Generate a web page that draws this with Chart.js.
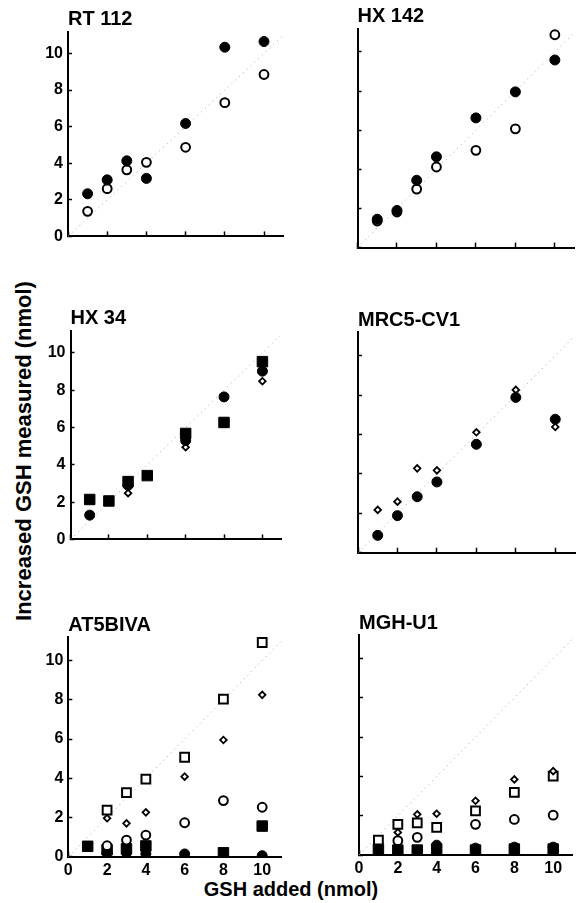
<!DOCTYPE html>
<html>
<head>
<meta charset="utf-8">
<script src="https://cdn.jsdelivr.net/npm/chart.js@4.4.1/dist/chart.umd.min.js"></script>
<style>
html,body{margin:0;padding:0;background:#fff;}
body{width:581px;height:903px;position:relative;overflow:hidden;font-family:"Liberation Sans",Arial,sans-serif;color:#000;}
canvas{position:absolute;}
.ytitle{position:absolute;left:24px;top:451px;transform-origin:0 0;transform:rotate(-90deg) translate(-50%,-50%);white-space:nowrap;font-weight:bold;font-size:22px;line-height:1;}
.xtitle{position:absolute;left:291px;top:889px;transform:translate(-50%,-50%);white-space:nowrap;font-weight:bold;font-size:20px;line-height:1;}
</style>
</head>
<body>
<div class="ytitle">Increased GSH measured (nmol)</div>
<div class="xtitle">GSH added (nmol)</div>
<script>
// ---------- data ----------
const gshAdded = [1, 2, 3, 4, 6, 8, 10];
const xTickValues = [0, 2, 4, 6, 8, 10];
const yTickValues = [0, 2, 4, 6, 8, 10];
const panelTitles = ['RT 112', 'HX 142', 'HX 34', 'MRC5-CV1', 'AT5BIVA', 'MGH-U1'];
const identityLine = [0, 11];

const rt112Filled = [2.33, 3.09, 4.13, 3.17, 6.17, 10.34, 10.65];
const rt112Open   = [1.37, 2.61, 3.64, 4.05, 4.87, 7.31, 8.85];

const hx142Filled = [1.45, 1.90, 3.44, 4.64, 6.63, 7.96, 9.59];
const hx142Open   = [1.36, 1.82, 2.99, 4.12, 4.97, 6.07, 10.88];

const hx34FilledSquares = [2.14, 2.06, 3.10, 3.42, 5.68, 6.27, 9.53];
const hx34FilledCircles = [1.30, null, 2.90, null, 5.30, 7.64, 9.02];
const hx34OpenDiamonds  = [null, null, 2.48, null, 4.94, null, 8.48];

const mrc5Filled   = [0.88, 1.88, 2.84, 3.59, 5.50, 7.88, 6.77];
const mrc5Diamonds = [2.17, 2.59, 4.28, 4.18, 6.11, 8.26, 6.38];

const at5OpenSquares   = [null, 2.38, 3.27, 3.95, 5.07, 8.03, 10.92];
const at5OpenDiamonds  = [null, 1.96, 1.70, 2.26, 4.08, 5.95, 8.25];
const at5OpenCircles   = [null, 0.56, 0.85, 1.10, 1.73, 2.86, 2.52];
const at5FilledSquares = [0.53, 0.35, 0.40, 0.55, null, 0.20, 1.56];
const at5FilledCircles = [null, 0.20, 0.20, 0.15, 0.14, null, 0.05];

const mghOpenDiamonds  = [null, 1.15, 2.07, 2.10, 2.76, 3.85, 4.27];
const mghOpenSquares   = [0.76, 1.56, 1.64, 1.41, 2.25, 3.19, 4.02];
const mghOpenCircles   = [null, 0.73, 0.90, null, 1.56, 1.81, 2.03];
const mghFilledSquares = [0.30, 0.25, 0.25, 0.30, 0.25, 0.30, 0.30];
const mghFilledCircles = [null, null, null, 0.50, 0.35, 0.40, 0.40];

// ---------- styles ----------
const FONT = '"Liberation Sans", Arial, sans-serif';
const markers = {
  filledCircle:  {pointStyle: 'circle',  radius: 5.0, bg: '#000', bw: 1},
  openCircle:    {pointStyle: 'circle',  radius: 4.4, bg: '#fff', bw: 2},
  filledSquare:  {pointStyle: 'rect',    radius: 7.4, bg: '#000', bw: 1},
  openSquare:    {pointStyle: 'rect',    radius: 6.2, bg: '#fff', bw: 2},
  openDiamond:   {pointStyle: 'rectRot', radius: 3.3, bg: '#fff', bw: 1.8}
};

// series listed top-most first (Chart.js draws dataset 0 last)
const panels = [
  {title: panelTitles[0], series: [['filledCircle', rt112Filled], ['openCircle', rt112Open]]},
  {title: panelTitles[1], series: [['filledCircle', hx142Filled], ['openCircle', hx142Open]]},
  {title: panelTitles[2], series: [['filledSquare', hx34FilledSquares], ['filledCircle', hx34FilledCircles], ['openDiamond', hx34OpenDiamonds]]},
  {title: panelTitles[3], series: [['filledCircle', mrc5Filled], ['openDiamond', mrc5Diamonds]]},
  {title: panelTitles[4], series: [['openSquare', at5OpenSquares], ['openDiamond', at5OpenDiamonds], ['openCircle', at5OpenCircles], ['filledSquare', at5FilledSquares], ['filledCircle', at5FilledCircles]]},
  {title: panelTitles[5], series: [['openDiamond', mghOpenDiamonds], ['openSquare', mghOpenSquares], ['openCircle', mghOpenCircles], ['filledCircle', mghFilledCircles], ['filledSquare', mghFilledSquares]]}
];

// layout: [colLeft, colWidth, axisLeft, plotRight, plotTop, plotBottom]
const geometry = [
  [0,   290, 68.0, 285.5, 31.5, 249.0],
  [290, 291, 357.5, 577.0, 28.5, 248.0],
  [0,   290, 70.5, 287.3, 330.5, 551.7],
  [290, 291, 358.0, 576.0, 332.0, 552.7],
  [0,   290, 68.3, 285.3, 637.0, 856.7],
  [290, 291, 359.0, 574.6, 635.0, 855.0]
];
const TITLE_H = 30;

Chart.defaults.font.family = FONT;

panels.forEach((p, i) => {
  const [colLeft, colW, axisLeft, plotRight, plotTop, plotBottom] = geometry[i];
  const isLeft = i % 2 === 0;
  const isBottom = i >= 4;
  const xH = isBottom ? 30 : 6;
  const topEdge = plotTop - TITLE_H;
  const canvasTop = Math.floor(topEdge);
  const canvasH = Math.ceil(plotBottom + xH - canvasTop);
  const padTop = topEdge - canvasTop;
  const padBottom = canvasTop + canvasH - (plotBottom + xH);
  const yW = axisLeft - colLeft;
  const padRight = colLeft + colW - plotRight;

  const cv = document.createElement('canvas');
  cv.width = colW; cv.height = canvasH;
  cv.style.left = colLeft + 'px'; cv.style.top = canvasTop + 'px';
  cv.style.width = colW + 'px'; cv.style.height = canvasH + 'px';
  document.body.appendChild(cv);

  const datasets = p.series.map(([kind, vals]) => {
    const m = markers[kind];
    return {
      label: kind,
      data: gshAdded.map((x, k) => ({x: x, y: vals[k]})),
      showLine: false,
      pointStyle: m.pointStyle,
      pointRadius: m.radius,
      pointHoverRadius: m.radius,
      pointBackgroundColor: m.bg,
      pointBorderColor: '#000',
      pointBorderWidth: m.bw,
      clip: 0
    };
  });
  datasets.push({
    label: 'identity',
    data: identityLine.map(v => ({x: v, y: v})),
    showLine: true,
    borderColor: '#b0b0b0',
    borderWidth: 1,
    borderDash: [1.2, 4],
    pointRadius: 0,
    clip: 0
  });

  new Chart(cv, {
    type: 'scatter',
    data: {datasets},
    options: {
      responsive: false,
      animation: false,
      events: [],
      devicePixelRatio: 1,
      layout: {padding: {left: 0, right: padRight, top: padTop, bottom: padBottom}},
      plugins: {
        legend: {display: false},
        tooltip: {enabled: false},
        title: {
          display: true, text: p.title, align: 'start', fullSize: false,
          color: '#000', font: {family: FONT, size: 20, weight: 'bold'},
          padding: {top: 6, bottom: 0}
        }
      },
      scales: {
        x: {
          type: 'linear', min: 0, max: 11,
          afterBuildTicks: s => { s.ticks = xTickValues.map(v => ({value: v})); },
          afterFit: s => { s.height = xH; },
          grid: {display: true, drawOnChartArea: false, drawTicks: true, tickLength: -5, tickColor: '#000', tickWidth: 1.5},
          border: {display: true, color: '#000', width: 2},
          ticks: {display: isBottom, color: '#000', padding: 9, maxRotation: 0, autoSkip: false,
                  font: {family: FONT, size: 16, weight: 'bold'}}
        },
        y: {
          type: 'linear', min: 0, max: 11.2,
          afterBuildTicks: s => { s.ticks = yTickValues.map(v => ({value: v})); },
          afterFit: s => { s.width = yW; },
          grid: {display: true, drawOnChartArea: false, drawTicks: true, tickLength: -4, tickColor: '#000', tickWidth: 1.5},
          border: {display: true, color: '#000', width: 2},
          ticks: {display: isLeft, color: '#000', padding: 9, autoSkip: false,
                  font: {family: FONT, size: 16, weight: 'bold'}}
        }
      }
    }
  });
});
</script>
</body>
</html>
